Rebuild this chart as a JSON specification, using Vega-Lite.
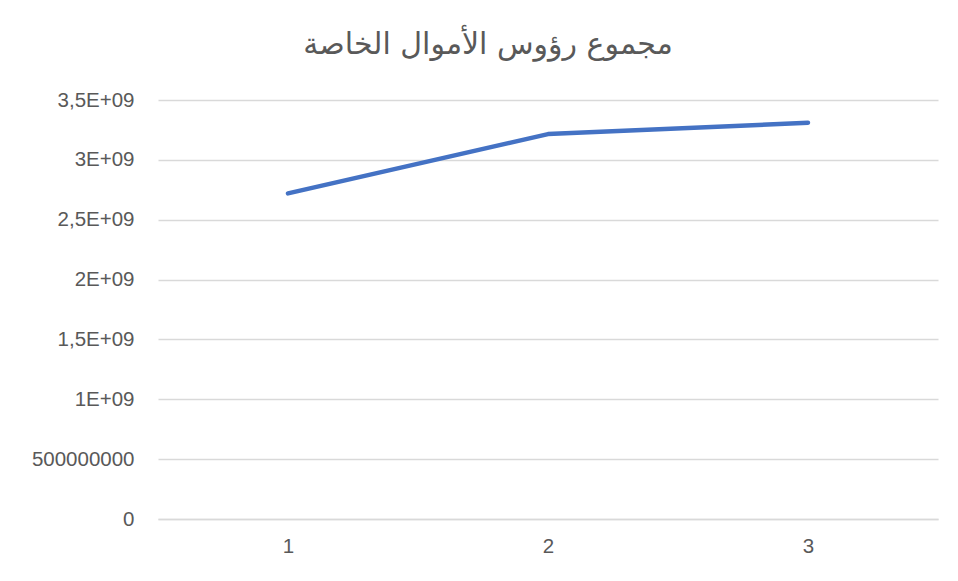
{
  "$schema": "https://vega.github.io/schema/vega-lite/v6.json",
  "autosize": {"type": "none"},
  "width": 780,
  "height": 419,
  "padding": {"left": 158, "top": 100, "right": 20, "bottom": 62},
  "background": "white",
  "title": {
    "text": "مجموع رؤوس الأموال الخاصة",
    "fontSize": 30,
    "font": "DejaVu Sans",
    "fontWeight": "normal",
    "color": "#595959",
    "anchor": "middle",
    "dx": -60,
    "offset": 30
  },
  "data": {
    "values": [
      {"x": "1", "value": 2720000000},
      {"x": "2", "value": 3215000000},
      {"x": "3", "value": 3310000000}
    ]
  },
  "mark": {"type": "line", "color": "#4472C4", "strokeWidth": 4.5, "strokeCap": "round", "strokeJoin": "round"},
  "encoding": {
    "x": {
      "field": "x", "type": "ordinal", "title": null,
      "scale": {"paddingInner": 0, "paddingOuter": 0.5},
      "axis": {"labelAngle": 0, "ticks": false, "domainColor": "#d9d9d9", "domainWidth": 1.3, "labelFontSize": 20.5, "labelColor": "#595959", "labelFont": "Liberation Sans", "labelPadding": 17, "grid": false}
    },
    "y": {
      "field": "value", "type": "quantitative", "title": null,
      "scale": {"domain": [0, 3500000000], "nice": false},
      "axis": {
        "values": [0, 500000000, 1000000000, 1500000000, 2000000000, 2500000000, 3000000000, 3500000000],
        "labelExpr": "datum.value == 0 ? '0' : datum.value == 500000000 ? '500000000' : replace(format(datum.value / 1000000000, '~g'), '.', ',') + 'E+09'",
        "ticks": false, "domain": false, "grid": true, "gridColor": "#d9d9d9", "gridWidth": 1.3,
        "labelFontSize": 20.5, "labelColor": "#595959", "labelFont": "Liberation Sans", "labelPadding": 24
      }
    }
  },
  "config": {"view": {"stroke": null}}
}
